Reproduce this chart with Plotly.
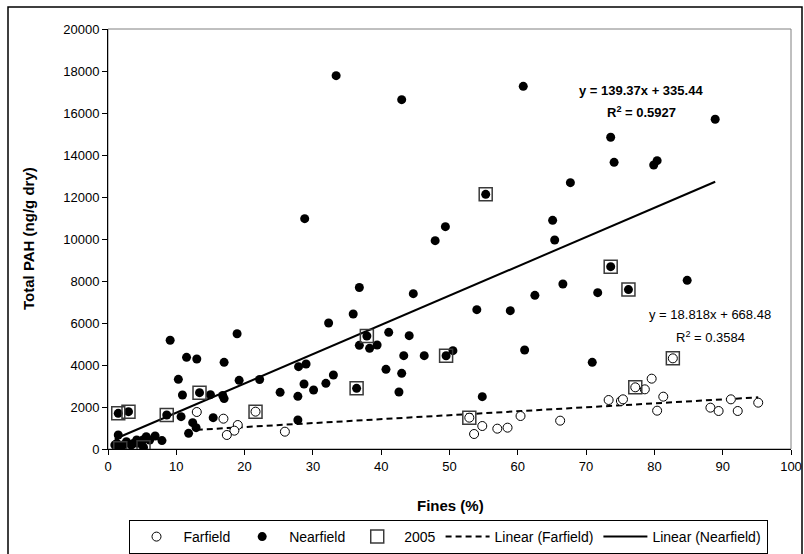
import plotly.graph_objects as go

# Farfield stations: fines (%) vs total PAH (ng/g dry)
farfield_x = [13.0, 16.9, 19.0, 18.5, 17.4, 21.6, 25.9, 52.9, 54.8, 53.6, 57.0, 58.5,
              60.4, 66.2, 73.3, 75.1, 75.4, 77.2, 82.7, 79.6, 78.6, 81.3, 80.4, 88.2,
              89.4, 91.2, 92.2, 95.2]
farfield_y = [1762, 1444, 1143, 873, 667, 1778, 825, 1492, 1095, 714, 968, 1016,
              1571, 1349, 2333, 2286, 2365, 2937, 4317, 3349, 2841, 2492, 1825, 1968,
              1810, 2365, 1810, 2206]

# Nearfield stations
nearfield_x = [1.0, 1.3, 1.5, 1.5, 1.7, 1.8, 2.2, 2.7, 3.0, 3.4, 3.7, 4.2, 4.4, 5.1, 5.2,
               5.6, 6.1, 6.9, 7.9, 8.6,
               9.1, 18.9, 11.5, 13.0, 17.0, 10.3, 19.2, 22.2, 10.9, 13.4, 15.0, 16.8,
               17.0, 10.7, 15.4, 12.4, 12.9, 11.8,
               36.8, 44.7, 35.9, 32.3, 37.9, 41.1, 44.1, 36.8, 38.3, 39.4, 43.3, 46.3,
               49.5, 50.5, 27.9, 29.0, 40.7, 43.0, 25.2, 27.8, 28.7, 30.1, 31.9, 33.0,
               36.4, 42.6, 27.8,
               66.6, 62.5, 71.7, 76.2, 54.0, 58.9, 61.0, 70.9, 54.8, 84.8,
               73.6, 88.9, 74.1, 79.9, 80.4, 67.7, 65.1, 65.4, 73.6,
               33.4, 43.0, 60.8, 55.3, 28.8, 49.4, 47.9]
nearfield_y = [190, 270, 667, 1698, 90, 40, 190, 350, 1778, 190, 260, 430, 270, 430, 80,
               587, 430, 620, 400, 1619,
               5176, 5490, 4366, 4286, 4127, 3317, 3270, 3310, 2571, 2683, 2587, 2550,
               2400, 1540, 1492, 1254, 1016, 746,
               7690, 7397, 6429, 6000, 5381, 5556, 5397, 4937, 4794, 4952, 4444, 4444,
               4440, 4683, 3921, 4048, 3794, 3603, 2698, 2508, 3095, 2810, 3127, 3524,
               2889, 2714, 1381,
               7857, 7317, 7444, 7590, 6635, 6587, 4714, 4127, 2492, 8030,
               14843, 15700, 13651, 13524, 13730, 12683, 10889, 9952, 8683,
               17778, 16635, 17270, 12127, 10968, 10587, 9921]

# Samples collected in 2005 (subset of the stations above)
yr2005_x = [1.5, 1.8, 3.0, 5.2, 8.6, 13.4, 21.6, 36.4, 37.9, 49.5, 52.9, 55.3, 73.6,
            76.2, 77.2, 82.7]
yr2005_y = [1698, 40, 1778, 80, 1619, 2683, 1778, 2889, 5381, 4440, 1492, 12127, 8683,
            7590, 2937, 4317]

# Linear fits (slope, intercept, R^2)
far_fit = (18.818, 668.48, 0.3584)
near_fit = (139.37, 335.44, 0.5927)

x_ticks = [0, 10, 20, 30, 40, 50, 60, 70, 80, 90, 100]
y_ticks = [0, 2000, 4000, 6000, 8000, 10000, 12000, 14000, 16000, 18000, 20000]
y_tick_labels = [str(v) for v in y_ticks]

FONT = "Liberation Sans, Arial, sans-serif"

# Plot-area geometry in pixels (figure is 804 x 554)
PL, PR, PT, PB = 108, 791, 29, 449
PW, PH = PR - PL, PB - PT


def px_x(p):
    return (p - PL) / PW


def px_y(p):
    return (PB - p) / PH


def label(x, y, text, size=13, angle=0):
    fig.add_annotation(xref="paper", yref="paper", x=px_x(x), y=px_y(y),
                       xanchor="center", yanchor="middle", text=text,
                       showarrow=False, textangle=angle,
                       font=dict(family=FONT, size=size, color="black"))


fig = go.Figure()

# Trend lines over each group's range of fines
fx = [min(farfield_x), max(farfield_x)]
nx = [min(nearfield_x), max(nearfield_x)]
fig.add_trace(go.Scatter(
    x=fx, y=[far_fit[0] * v + far_fit[1] for v in fx], mode="lines",
    name="Linear (Farfield)", line=dict(color="black", width=2, dash="6px,4px"),
    legendrank=4))
fig.add_trace(go.Scatter(
    x=nx, y=[near_fit[0] * v + near_fit[1] for v in nx], mode="lines",
    name="Linear (Nearfield)", line=dict(color="black", width=2),
    legendrank=5))

# Points
fig.add_trace(go.Scatter(
    x=farfield_x, y=farfield_y, mode="markers", name="Farfield",
    marker=dict(symbol="circle", size=9, color="white",
                line=dict(color="black", width=1)),
    legendrank=1))
fig.add_trace(go.Scatter(
    x=nearfield_x, y=nearfield_y, mode="markers", name="Nearfield",
    marker=dict(symbol="circle", size=9, color="black",
                line=dict(color="black", width=0)),
    legendrank=2))
fig.add_trace(go.Scatter(
    x=yr2005_x, y=yr2005_y, mode="markers", name="2005",
    marker=dict(symbol="square-open", size=13, color="#3a3a3a",
                line=dict(color="#3a3a3a", width=1.5)),
    legendrank=3))

# Plot-area frame (gray) and outer chart frame (black)
fig.add_shape(type="rect", xref="paper", yref="paper", x0=0, y0=0, x1=1, y1=1,
              line=dict(color="#808080", width=1), layer="below")
fig.add_shape(type="rect", xref="paper", yref="paper",
              x0=px_x(8), y0=px_y(560), x1=px_x(802), y1=px_y(7),
              line=dict(color="black", width=1.5), layer="below")

# Regression equations
label(641, 90, f"<b>y = {near_fit[0]}x + {near_fit[1]}</b>")
label(641, 112, f"<b>R<sup>2</sup> = {near_fit[2]}</b>")
label(710, 314, f"y = {far_fit[0]}x + {far_fit[1]}")
label(710, 337, f"R<sup>2</sup> = {far_fit[2]}")

# Axis titles
label(450, 505, "<b>Fines (%)</b>", size=15)
label(28, 239, "<b>Total PAH (ng/g dry)</b>", size=15, angle=-90)

fig.update_layout(
    width=804, height=554,
    margin=dict(l=PL, r=804 - PR, t=PT, b=554 - PB, autoexpand=False),
    paper_bgcolor="white", plot_bgcolor="white",
    font=dict(family=FONT, size=13, color="black"),
    showlegend=True,
    legend=dict(orientation="h", x=px_x(448), xanchor="center",
                y=px_y(520), yanchor="top", itemwidth=44,
                bordercolor="black", borderwidth=1, bgcolor="white",
                font=dict(family=FONT, size=14, color="black"),
                traceorder="normal"),
    xaxis=dict(range=[0, 100], tickvals=x_ticks, showgrid=False, zeroline=False,
               showline=True, linecolor="black", linewidth=1,
               ticks="outside", ticklen=5, tickcolor="black",
               tickfont=dict(family=FONT, size=13)),
    yaxis=dict(range=[0, 20000], tickvals=y_ticks, ticktext=y_tick_labels,
               showgrid=False, zeroline=False,
               showline=True, linecolor="black", linewidth=1,
               ticks="outside", ticklen=5, tickcolor="black",
               tickfont=dict(family=FONT, size=13)),
)

fig.write_html("out.html")
